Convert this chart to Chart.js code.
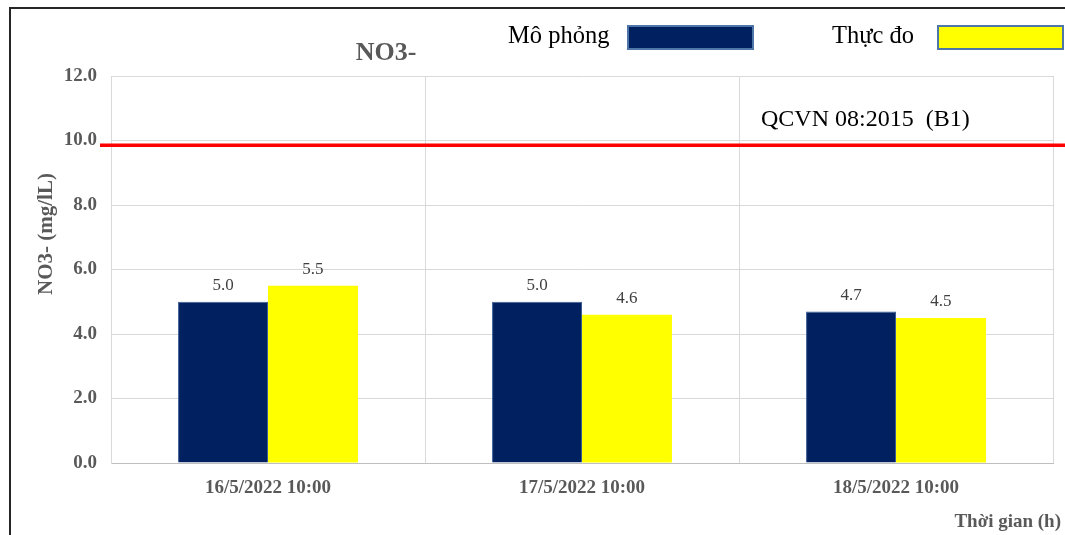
<!DOCTYPE html>
<html>
<head>
<meta charset="utf-8">
<script src="https://cdn.jsdelivr.net/npm/chart.js@4.4.1/dist/chart.umd.min.js"></script>
<style>
  html, body { margin: 0; padding: 0; background: #ffffff; }
  #wrap { position: relative; width: 1065px; height: 535px; overflow: hidden; }
  #frame {
    position: absolute; left: 9px; top: 7px; width: 1100px; height: 600px;
    border-top: 2px solid #262626; border-left: 2px solid #262626;
  }
  #chart { position: absolute; left: 0; top: 0; }
</style>
</head>
<body>
<div id="wrap">
  <div id="frame"></div>
  <canvas id="chart" width="1065" height="535"></canvas>
</div>
<script>
// Sampling times and NO3- concentrations (mg/L)
const categories = ['16/5/2022 10:00', '17/5/2022 10:00', '18/5/2022 10:00'];
const simulated = [5.0, 5.0, 4.7];   // Mô phỏng
const measured = [5.5, 4.6, 4.5];    // Thực đo
const seriesNames = ['Mô phỏng', 'Thực đo'];

// Value axis
const yMin = 0;
const yMax = 12;
const yStep = 2;

// Regulatory limit line
const limitValue = 9.85;
const limitLabel = 'QCVN 08:2015  (B1)';

const chartTitle = 'NO3-';
const yAxisTitle = 'NO3- (mg/lL)';
const xAxisTitle = 'Thời gian (h)';

const SERIF = "'Liberation Serif', 'Times New Roman', serif";
const GREY = '#595959';

// Value labels above each bar
const valueLabels = {
  id: 'valueLabels',
  afterDatasetsDraw(chart) {
    const ctx = chart.ctx;
    ctx.save();
    ctx.font = '17px ' + SERIF;
    ctx.fillStyle = '#404040';
    ctx.textAlign = 'center';
    ctx.textBaseline = 'alphabetic';
    chart.data.datasets.forEach((ds, i) => {
      chart.getDatasetMeta(i).data.forEach((bar, j) => {
        ctx.fillText(ds.data[j].toFixed(1), bar.x, bar.y - 11.5);
      });
    });
    ctx.restore();
  }
};

// Limit line, titles and the legend
const decorations = {
  id: 'decorations',
  afterDatasetsDraw(chart) {
    const ctx = chart.ctx;
    const area = chart.chartArea;
    const yScale = chart.scales.y;
    ctx.save();

    // limit line across the plot
    const ly = yScale.getPixelForValue(limitValue);
    ctx.strokeStyle = '#ff0000';
    ctx.lineWidth = 3.5;
    ctx.beginPath();
    ctx.moveTo(area.left - 11, ly);
    ctx.lineTo(chart.width, ly);
    ctx.stroke();

    ctx.fillStyle = '#000000';
    ctx.font = '24px ' + SERIF;
    ctx.textAlign = 'left';
    ctx.textBaseline = 'alphabetic';
    ctx.fillText(limitLabel, area.left + 650, ly - 19);

    // chart title
    ctx.fillStyle = GREY;
    ctx.font = 'bold 26px ' + SERIF;
    ctx.textAlign = 'center';
    ctx.fillText(chartTitle, 386, 60);

    // y axis title
    ctx.save();
    ctx.translate(47, 234);
    ctx.rotate(-Math.PI / 2);
    ctx.font = 'bold 21px ' + SERIF;
    ctx.textAlign = 'center';
    ctx.textBaseline = 'middle';
    ctx.fillText(yAxisTitle, 0, 0);
    ctx.restore();

    // x axis title
    ctx.font = 'bold 19px ' + SERIF;
    ctx.textAlign = 'right';
    ctx.textBaseline = 'alphabetic';
    ctx.fillText(xAxisTitle, 1061, 527);

    // legend: name followed by a swatch
    const legendItems = [
      { textX: 508, boxX: 628 },
      { textX: 832, boxX: 938 }
    ];
    chart.data.datasets.forEach((ds, i) => {
      const it = legendItems[i];
      ctx.fillStyle = '#000000';
      ctx.font = '24.5px ' + SERIF;
      ctx.textAlign = 'left';
      ctx.fillText(ds.label, it.textX, 43);
      ctx.fillStyle = ds.backgroundColor;
      ctx.fillRect(it.boxX, 26, 125, 23);
      ctx.strokeStyle = '#4f76a8';
      ctx.lineWidth = 2;
      ctx.strokeRect(it.boxX, 26, 125, 23);
    });

    ctx.restore();
  }
};

new Chart(document.getElementById('chart'), {
  type: 'bar',
  data: {
    labels: categories,
    datasets: [
      {
        label: seriesNames[0],
        data: simulated,
        backgroundColor: '#002060',
        borderColor: '#3b5d94',
        borderWidth: 1,
        categoryPercentage: 0.573,
        barPercentage: 1.0
      },
      {
        label: seriesNames[1],
        data: measured,
        backgroundColor: '#ffff00',
        borderWidth: 0,
        categoryPercentage: 0.573,
        barPercentage: 1.0
      }
    ]
  },
  options: {
    responsive: false,
    animation: false,
    devicePixelRatio: 1,
    layout: { padding: { top: 76, right: 12, bottom: 0, left: 0 } },
    plugins: {
      legend: { display: false },
      title: { display: false },
      tooltip: { enabled: false }
    },
    scales: {
      x: {
        afterFit(scale) { scale.height = 72; },
        grid: { color: '#d9d9d9', lineWidth: 1, drawTicks: false, offset: true },
        border: { color: '#bfbfbf', width: 1 },
        ticks: {
          color: GREY,
          padding: 14,
          font: { family: SERIF, size: 19, weight: 'bold' }
        }
      },
      y: {
        min: yMin,
        max: yMax,
        afterFit(scale) { scale.width = 111; },
        grid: { color: '#d9d9d9', lineWidth: 1, drawTicks: false },
        border: { color: '#d9d9d9', width: 1 },
        ticks: {
          stepSize: yStep,
          color: GREY,
          padding: 14,
          font: { family: SERIF, size: 19, weight: 'bold' },
          callback: (v) => Number(v).toFixed(1)
        }
      }
    }
  },
  plugins: [valueLabels, decorations]
});
</script>
</body>
</html>
